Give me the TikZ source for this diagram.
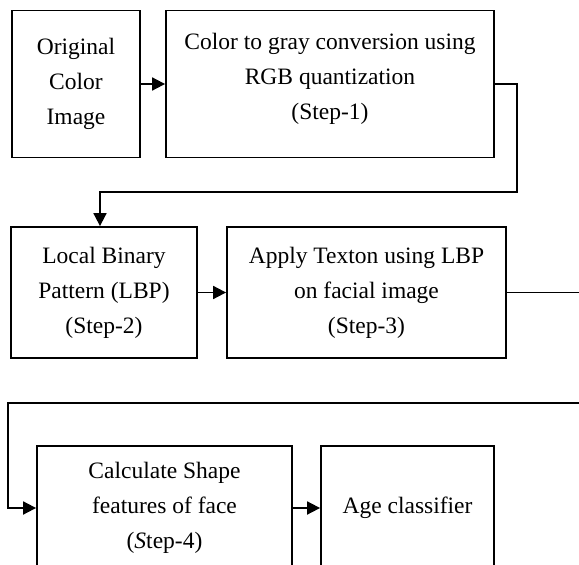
\documentclass[tikz,border=0pt]{standalone}
\usepackage{fontspec}
\setmainfont{Liberation Serif}
\usetikzlibrary{arrows.meta}

\begin{document}
\begin{tikzpicture}[x=1pt, y=-1pt,
  blockbox/.style={draw, line width=1.8pt, rectangle, align=center,
    font=\fontsize{23.5}{35}\selectfont, inner sep=2pt},
  flowarrow/.style={line width=1.8pt, -{Triangle[length=13pt, width=13pt]}}]

\useasboundingbox (0,0) rectangle (579,565);
\clip (0,0) rectangle (579,565);

% first row
\node[blockbox, minimum width=128pt, minimum height=147pt] (orig) at (76,84)
  {Original\\Color\\Image};
\node[blockbox, minimum width=328pt, minimum height=147pt] (step1) at (330,84)
  {Color to gray conversion using\\RGB quantization\\(Step-1)\rule[-15pt]{0pt}{15pt}};

% second row
\node[blockbox, minimum width=186pt, minimum height=131pt] (step2) at (104,292.5)
  {Local Binary\\Pattern (LBP)\\(Step-2)};
\node[blockbox, minimum width=279pt, minimum height=131pt] (step3) at (366.5,292.5)
  {Apply Texton using LBP\\on facial image\\(Step-3)};

% third row (cut by the page)
\node[blockbox, minimum width=255pt, minimum height=124pt] (step4) at (164.5,508)
  {Calculate Shape\\features of face\\(\textit{S}tep-4)};
\node[blockbox, minimum width=173pt, minimum height=124pt] (age) at (407.5,508)
  {Age classifier};

\coordinate (turn1) at (517,192);
\coordinate (turn2) at (100,192);
\coordinate (turn3) at (600,403);
\coordinate (turn4) at (8,403);

\draw[flowarrow] (orig) -- (step1);
\draw[flowarrow] (step1.east) -| (turn1) -- (turn2) -- (turn2 |- step2.north);
\draw[flowarrow] (step2) -- (step3);
\draw[flowarrow] (step3.east) -| (turn3) -- (turn4) |- (step4.west);
\draw[flowarrow] (step4) -- (age);

\end{tikzpicture}
\end{document}
